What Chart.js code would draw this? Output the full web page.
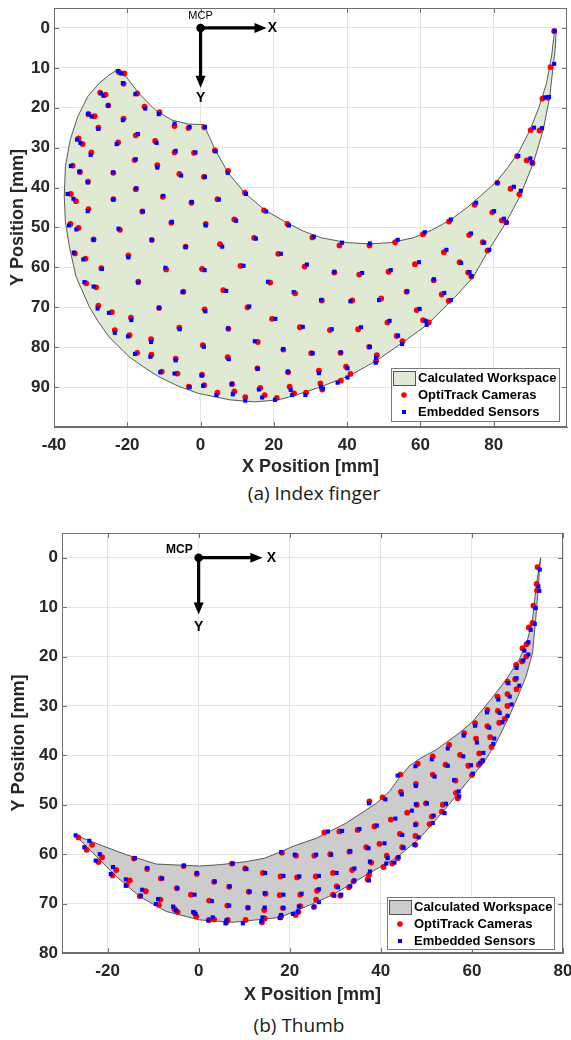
<!DOCTYPE html>
<html><head><meta charset="utf-8">
<script src="https://cdn.jsdelivr.net/npm/chart.js@4.4.0/dist/chart.umd.min.js"></script>
<style>
html,body{margin:0;padding:0;background:#fff;width:571px;height:1040px;overflow:hidden;}
.wrap{position:absolute;left:0;width:571px;}
.cap{position:absolute;font-family:"Open Sans",sans-serif;font-size:19px;color:#1a1a1a;white-space:nowrap;transform:translateX(-50%);}
</style></head><body>
<div class="wrap" style="top:0;height:480px"><canvas id="c1" width="571" height="480"></canvas></div>
<div class="cap" style="top:480px;left:314px">(a) Index finger</div>
<div class="wrap" style="top:520px;height:490px"><canvas id="c2" width="571" height="490"></canvas></div>
<div class="cap" style="top:1012px;left:299px">(b) Thumb</div>
<script>
// ---------- Index finger ----------
const indexXTicks = [-40,-20,0,20,40,60,80];
const indexYTicks = [0,10,20,30,40,50,60,70,80,90];
const indexWorkspace = [[-22.4,10.3],[-20,12.6],[-16.8,16.4],[-12.3,20.6],[-7.8,23.1],[-3.3,24.1],[0.8,24.2],
[2.5,27.5],[4,30.6],[7.6,36.4],[12.1,41.4],[17.5,45.6],[23.9,49],[28,50.9],[33,52.6],[40,53.8],[46.3,54.1],[52,53.8],[58,52.6],[63,50.7],[68.2,48.1],[73,44.8],[77,41.6],[80.8,38.5],[84,34.8],[87,30.8],[89.9,25.6],[92.3,20],[94.4,13.9],[95.8,7],[96.5,1.5],[96.8,0.2],
[97,1.5],[96.8,5],[96.2,9.7],[95.3,17.2],[93.5,25.6],[90.8,33.9],[87.1,42.3],[83.5,48.5],[78.1,56.5],[74.5,62.3],[70.4,66.5],[67.25,69.4],[61.8,74.4],[55.5,78.6],[48.3,83.2],[41,87],[32.9,89.9],[25.7,92.1],[21.2,93.2],[14.8,93.7],[8,93.2],[-0.5,91.6],[-6,89.8],[-11.4,87.4],[-15.5,85],[-19.5,82.4],[-25,77.4],[-28,73.5],[-30.4,69.8],[-34,62.3],[-35.8,54.8],[-36.9,48.5],[-37.2,42.3],[-36.9,34.8],[-35.6,28.1],[-33.5,22.2],[-30.8,17.2],[-27.7,13.9],[-25,11.8],[-22.4,10.3]];
const indexOpti = [[-22.2,11.1],[-20.8,11.4],[-21.0,14.0],[-27.4,16.2],[-25.9,16.7],[-25.2,19.4],[-30.6,21.6],[-28.9,22.1],[-21.0,22.7],[-27.9,25.0],
[-33.3,27.7],[-32.2,29.1],[-29.8,31.2],[-22.5,28.7],[-34.9,34.5],[-32.9,36.1],[-23.8,36.3],[-30.7,38.5],[-35.4,41.6],[-34.0,43.4],
[-23.8,42.9],[-30.6,45.4],[-35.5,49.1],[-33.3,50.1],[-29.2,53.0],[-22.0,50.6],[-13.3,53.1],[-4.1,54.8],[-17.3,16.4],[-15.3,19.7],
[-11.2,21.1],[-7.1,24.6],[-3.3,25.1],[1.0,24.9],[-17.7,26.9],[-12.4,28.3],[-7.1,31.2],[-1.8,31.3],[3.9,30.7],[-18.0,33.1],
[-11.8,34.4],[-5.8,36.6],[0.9,37.3],[7.5,35.8],[-17.7,40.4],[-10.3,42.3],[-2.5,43.8],[4.6,42.9],[12.1,41.3],[-15.9,46.0],
[-8.0,48.8],[1.4,49.1],[9.2,48.0],[17.3,45.7],[23.7,49.1],[14.6,52.6],[5.3,54.2],[96.5,0.8],[95.5,9.8],[93.3,17.7],
[94.8,17.5],[90.1,25.6],[92.5,25.7],[86.4,32.1],[89.0,33.2],[90.6,33.9],[81.0,38.8],[84.6,40.3],[87.0,41.7],[74.8,44.3],
[79.6,46.2],[82.2,48.2],[83.4,48.7],[67.8,48.5],[73.3,51.9],[77.0,53.7],[60.7,51.7],[53.1,53.7],[46.1,54.5],[37.9,54.5],
[30.5,52.5],[78.3,55.8],[28.4,59.8],[36.5,61.3],[43.3,61.8],[51.3,61.1],[58.5,59.2],[66.4,56.2],[70.7,58.7],[73.0,61.3],
[73.9,62.3],[63.6,63.2],[33.1,68.3],[41.4,68.3],[49.3,67.8],[56.2,66.1],[65.8,66.8],[67.7,68.4],[59.0,70.7],[27.1,75.0],
[35.3,75.7],[43.0,75.5],[51.0,73.8],[60.7,73.2],[62.3,73.8],[53.5,77.2],[55.1,78.5],[46.0,79.9],[48.1,82.0],[47.9,83.5],
[30.2,81.5],[38.2,81.4],[32.3,85.9],[39.7,84.9],[40.9,86.7],[28.8,91.4],[32.7,89.1],[33.2,90.6],[38.3,88.4],[-34.3,56.5],
[-31.4,57.8],[-27.1,60.2],[-19.7,57.0],[21.2,56.6],[-9.4,60.5],[0.4,60.4],[10.9,59.6],[-31.2,64.0],[-28.5,65.0],[-17.0,63.6],
[-4.7,66.1],[6.2,65.7],[19.0,63.8],[25.8,66.5],[-27.9,69.6],[-24.2,71.2],[-11.3,70.2],[1.1,70.5],[12.8,70.0],[19.5,72.9],
[-19.0,72.6],[-23.4,75.7],[-5.8,75.1],[7.6,75.4],[-19.4,77.0],[-13.5,78.0],[0.6,79.5],[15.6,78.7],[22.6,80.6],[-17.3,81.4],
[-13.4,81.9],[-6.8,82.9],[7.4,82.5],[15.5,85.3],[23.9,86.3],[-10.6,86.1],[-6.3,86.6],[0.4,86.9],[-3.2,89.9],[1.0,89.5],
[8.6,89.2],[4.6,91.4],[9.2,91.1],[12.2,92.5],[16.3,90.2],[17.5,92.0],[20.8,92.7],[24.3,89.9],[25.5,91.6]];
const indexEmb = [[-22.6,10.8],[-21.6,11.4],[-21.2,13.8],[-27.2,16.4],[-26.5,17.0],[-25.2,19.5],[-30.7,21.5],[-29.7,22.2],[-21.2,23.1],[-27.9,25.3],
[-33.7,28.0],[-32.8,28.8],[-30.0,31.8],[-22.9,29.1],[-35.4,34.6],[-33.1,36.0],[-23.9,36.2],[-30.8,38.7],[-36.3,41.6],[-34.7,42.8],
[-23.8,43.0],[-30.8,45.9],[-35.9,49.5],[-33.9,50.5],[-29.2,53.1],[-22.4,50.3],[-13.3,53.2],[-4.0,54.9],[-17.8,16.6],[-15.1,20.2],
[-11.4,21.6],[-7.1,24.0],[-3.0,24.8],[1.2,24.8],[-17.1,26.6],[-12.0,28.8],[-6.8,30.8],[-1.4,31.2],[4.1,30.9],[-17.7,32.9],
[-11.8,35.0],[-5.3,37.0],[1.2,37.3],[7.4,36.3],[-17.5,40.2],[-10.2,42.1],[-2.4,43.6],[5.0,43.0],[12.4,41.6],[-15.8,46.0],
[-7.8,48.6],[1.4,49.5],[9.7,48.3],[17.9,46.0],[24.1,49.5],[15.1,52.8],[5.9,54.8],[96.6,0.7],[96.5,9.0],[94.0,17.4],
[95.1,17.3],[91.0,25.0],[93.2,25.1],[86.7,32.1],[90.0,32.7],[90.4,33.7],[80.9,38.8],[85.5,39.8],[87.4,40.8],[75.2,43.8],
[80.1,45.9],[82.8,47.8],[83.5,48.8],[68.3,48.0],[73.8,51.5],[77.4,53.8],[61.2,51.2],[53.8,53.1],[46.2,54.0],[38.6,53.8],
[30.9,52.3],[78.8,55.6],[29.0,59.3],[36.5,61.1],[44.1,61.4],[51.9,60.7],[59.6,58.7],[67.1,55.6],[71.1,58.9],[73.4,61.2],
[74.0,62.2],[63.7,63.0],[32.9,68.2],[40.9,68.5],[48.7,68.2],[56.4,66.0],[66.5,66.4],[68.3,68.2],[59.8,70.4],[27.9,74.9],
[35.8,75.5],[43.8,75.0],[51.6,73.4],[61.4,73.4],[61.7,74.4],[53.9,77.1],[55.0,79.2],[46.2,79.9],[47.9,82.7],[47.8,83.9],
[30.6,81.5],[38.3,81.3],[32.3,86.5],[40.1,85.3],[40.1,87.6],[28.6,92.0],[32.9,89.9],[33.4,90.4],[37.4,88.9],[-34.6,56.3],
[-32.0,58.0],[-26.9,60.4],[-19.7,57.5],[21.9,56.6],[-9.6,60.1],[1.1,60.7],[11.7,59.6],[-31.7,63.7],[-29.2,64.8],[-17.0,63.8],
[-4.9,66.2],[7.0,65.9],[18.4,63.6],[25.4,66.2],[-28.1,70.3],[-25.0,71.4],[-11.4,70.1],[1.3,71.0],[13.3,69.8],[20.4,72.9],
[-18.9,73.2],[-23.4,76.4],[-5.7,75.5],[7.5,75.3],[-19.8,77.3],[-13.5,78.7],[0.9,79.9],[14.8,78.5],[22.5,80.5],[-17.9,81.7],
[-13.7,82.4],[-6.8,83.3],[7.7,83.0],[15.6,85.4],[23.8,86.1],[-11.0,86.3],[-7.1,86.6],[0.3,87.1],[-3.0,90.0],[0.7,89.7],
[8.5,89.3],[4.3,92.0],[8.8,91.8],[12.2,93.4],[15.9,90.6],[16.8,92.6],[20.3,93.2],[24.6,90.7],[25.0,92.0]];

// ---------- Thumb ----------
const thumbXTicks = [-20,0,20,40,60,80];
const thumbYTicks = [0,10,20,30,40,50,60,70,80];
const thumbWorkspace = [[-27.2,56.1],[-21.7,58.1],[-15.9,60.1],[-9.3,62],[0.2,62.4],[5,62.1],[10.5,61.5],[14.5,60.8],[17.8,59.6],[21,58.3],[25.8,56.8],[32.4,53.7],[39,49.7],[41.9,47.3],[44,44.6],[46.3,42.1],[48.5,40.7],[52.1,38.9],[57.2,35.5],[60.2,33.1],[63.8,29.1],[67.5,24.7],[70.4,20.6],[72.2,16.6],[73.3,12.5],[74.1,5.8],[75.1,0],
[74.8,3],[74.6,5.8],[74,12.5],[73.3,19.3],[71.9,24],[70.4,27.4],[68.2,32.1],[65.3,37.5],[62.6,41.5],[59.4,44.9],[54.3,50.7],[48.5,56.8],[43.3,60.8],[36.8,64.2],[29.5,68.2],[23.6,70.6],[17.8,72.8],[7.5,73.8],[0.2,73.3],[-7.1,71.6],[-12.9,68.6],[-18.1,64.5],[-22.4,60.5],[-26.1,57.1],[-27.2,56.1]];
const thumbOpti = [[-26.4,56.6],[-23.4,58.1],[-24.6,59.1],[-21.2,60.6],[-22.0,61.6],[-18.1,63.2],[-18.9,64.3],[-15.1,65.3],[-15.8,66.2],[-14.2,60.9],
[-11.3,63.0],[-11.6,67.5],[-12.9,68.5],[-8.3,64.9],[-8.4,69.2],[-8.7,70.3],[-4.8,66.9],[-5.3,71.1],[-4.6,71.7],[-3.3,62.4],
[-0.4,64.0],[-1.7,68.2],[-0.9,71.9],[-0.5,72.6],[3.4,65.6],[2.3,69.4],[3.4,73.2],[2.3,73.3],[6.7,66.6],[6.3,70.4],
[6.4,73.3],[6.1,73.8],[7.3,61.9],[10.2,62.9],[11.0,67.6],[10.8,70.8],[10.3,73.3],[14.1,63.8],[14.7,68.0],[14.4,71.3],
[14.5,73.0],[13.9,73.8],[18.3,59.7],[18.0,64.5],[17.8,68.3],[18.5,70.9],[18.1,72.5],[18.0,72.8],[21.4,60.3],[21.6,64.7],
[21.3,72.3],[21.9,71.7],[22.3,68.2],[22.3,70.5],[25.4,60.3],[25.7,64.5],[26.0,67.4],[25.8,69.2],[25.3,70.7],[27.6,55.6],
[28.9,60.0],[29.5,63.8],[30.3,66.5],[29.5,68.2],[31.1,68.4],[30.9,55.4],[33.1,59.5],[33.0,66.7],[34.0,65.5],[33.7,63.2],
[34.9,55.1],[36.8,58.6],[37.9,61.7],[37.4,64.2],[37.1,65.1],[37.5,49.3],[38.6,54.4],[39.7,57.9],[40.4,48.5],[41.3,60.3],
[40.6,62.6],[42.5,61.9],[42.2,53.0],[43.7,60.8],[44.3,43.9],[44.4,47.4],[44.2,55.9],[44.7,58.6],[45.8,51.6],[47.7,45.8],
[48.1,41.7],[47.9,50.0],[47.7,53.9],[47.6,56.3],[47.6,58.1],[49.9,49.7],[51.4,43.9],[51.2,52.4],[50.7,53.9],[53.6,50.0],
[53.4,51.4],[54.2,41.9],[56.4,45.1],[56.5,47.6],[56.9,48.7],[59.2,42.1],[60.0,44.0],[61.5,41.9],[74.4,1.9],[74.2,5.3],
[74.3,6.6],[73.5,9.7],[73.3,13.2],[72.5,14.1],[72.0,17.5],[71.1,18.3],[71.9,20.0],[71.0,21.0],[69.7,21.7],[69.5,24.6],
[67.8,25.1],[69.8,26.6],[67.8,27.6],[65.6,28.1],[67.8,30.0],[65.7,31.0],[63.4,30.8],[67.2,32.6],[66.0,33.4],[60.7,33.5],
[63.4,34.1],[58.3,35.5],[60.9,36.6],[64.0,36.3],[64.3,38.3],[55.0,37.9],[57.4,39.9],[61.6,39.6],[62.2,41.2],[51.4,40.2]];
const thumbEmb = [[-27.0,56.2],[-24.0,57.3],[-25.1,58.6],[-21.7,60.0],[-22.6,61.3],[-18.8,62.6],[-19.3,64.0],[-16.0,65.1],[-16.0,66.4],[-14.0,60.8],
[-11.3,62.8],[-12.4,67.2],[-12.7,68.4],[-8.0,64.9],[-8.9,69.1],[-9.4,70.1],[-4.7,66.9],[-5.6,70.6],[-5.0,71.4],[-3.2,62.3],
[-0.4,63.8],[-0.9,68.2],[-1.2,71.7],[-0.7,72.1],[3.5,65.5],[2.9,69.5],[3.1,72.8],[2.1,73.4],[6.8,66.5],[6.7,70.4],
[6.1,73.4],[5.9,74.0],[7.5,61.9],[10.5,63.0],[11.2,67.6],[10.9,70.9],[9.7,74.0],[14.6,63.8],[14.5,67.9],[14.5,70.8],
[14.0,72.8],[13.8,73.6],[18.1,59.6],[18.6,64.4],[18.6,68.2],[18.6,70.9],[18.1,72.3],[17.8,72.9],[21.1,60.1],[22.1,64.5],
[20.7,72.1],[21.8,71.6],[22.6,68.0],[22.0,70.6],[25.8,60.1],[26.4,64.4],[26.4,67.1],[26.4,69.7],[25.4,70.6],[28.4,55.4],
[29.1,60.1],[30.3,63.8],[30.6,66.7],[29.8,68.4],[31.3,68.2],[31.5,55.3],[33.3,59.4],[33.3,66.5],[34.2,65.3],[34.2,62.9],
[35.3,54.9],[37.3,58.8],[37.6,61.5],[37.6,63.5],[37.4,65.3],[37.4,49.7],[39.1,54.2],[40.8,57.8],[41.0,48.9],[41.5,60.8],
[41.2,61.9],[43.0,61.7],[43.2,52.8],[43.9,60.6],[43.7,44.1],[44.6,47.9],[44.7,56.1],[45.0,58.7],[46.8,51.2],[47.7,46.2],
[47.6,42.2],[47.7,49.9],[47.6,54.1],[48.3,56.6],[47.4,58.1],[50.1,49.7],[51.8,44.3],[51.6,52.2],[51.4,53.7],[54.3,49.8],
[54.0,51.7],[54.7,42.1],[56.1,45.0],[57.1,47.3],[57.2,48.3],[59.8,42.0],[60.2,43.7],[61.8,41.6],[74.9,2.4],[74.6,5.8],
[74.8,6.7],[74.0,10.2],[73.8,13.4],[72.9,14.6],[72.4,17.1],[71.5,18.8],[72.4,19.6],[71.3,20.8],[69.8,22.3],[69.8,24.4],
[68.0,25.4],[70.4,25.9],[68.3,28.1],[65.8,28.7],[68.7,29.7],[66.1,31.4],[63.3,31.3],[67.8,32.0],[66.7,33.3],[60.7,34.0],
[63.8,34.4],[58.2,36.0],[61.1,37.4],[64.9,36.6],[64.7,37.7],[54.7,38.6],[58.1,40.2],[62.5,39.5],[62.4,41.0],[51.2,40.8]];

const legendLabels = ['Calculated Workspace','OptiTrack Cameras','Embedded Sensors'];

const toXY = a => a.map(p => ({x:p[0], y:p[1]}));
const TICK_FONT = {family:'"Liberation Sans", Arial, sans-serif', size:17, weight:'bold'};
const TITLE_FONT = {family:'"Liberation Sans", Arial, sans-serif', size:18, weight:'bold'};
const TXT = '#262626', GRID = '#e4e4e4', BOX = '#6e6e6e';

const boxPlugin = {
  id:'boxPlugin',
  afterDatasetsDraw(chart){
    const {ctx, chartArea:a, scales:{x, y}} = chart;
    ctx.save();
    ctx.strokeStyle = BOX; ctx.lineWidth = 1;
    ctx.strokeRect(a.left+0.5, a.top+0.5, a.right-a.left-1, a.bottom-a.top-1);
    ctx.beginPath();
    x.ticks.forEach(t => { const p = Math.round(x.getPixelForValue(t.value))+0.5;
      ctx.moveTo(p, a.bottom); ctx.lineTo(p, a.bottom-5); ctx.moveTo(p, a.top); ctx.lineTo(p, a.top+5); });
    y.ticks.forEach(t => { const p = Math.round(y.getPixelForValue(t.value))+0.5;
      ctx.moveTo(a.left, p); ctx.lineTo(a.left+5, p); ctx.moveTo(a.right, p); ctx.lineTo(a.right-5, p); });
    ctx.stroke();
    ctx.restore();
  }
};

const mcpPlugin = {
  id:'mcp',
  afterDatasetsDraw(chart, args, o){
    const {ctx, scales:{x, y}} = chart;
    const ox = x.getPixelForValue(0), oy = y.getPixelForValue(0);
    const tx = x.getPixelForValue(o.ax), ty = y.getPixelForValue(o.ay);
    const hl = 12, hw = 5;
    ctx.save();
    ctx.strokeStyle = '#000'; ctx.fillStyle = '#000'; ctx.lineWidth = 3.2;
    ctx.beginPath(); ctx.moveTo(ox, oy); ctx.lineTo(tx-hl+1, oy); ctx.moveTo(ox, oy); ctx.lineTo(ox, ty-hl+1); ctx.stroke();
    ctx.beginPath(); ctx.moveTo(tx, oy); ctx.lineTo(tx-hl, oy-hw); ctx.lineTo(tx-hl, oy+hw); ctx.closePath(); ctx.fill();
    ctx.beginPath(); ctx.moveTo(ox, ty); ctx.lineTo(ox-hw, ty-hl); ctx.lineTo(ox+hw, ty-hl); ctx.closePath(); ctx.fill();
    ctx.beginPath(); ctx.arc(ox, oy, 4.3, 0, Math.PI*2); ctx.fill();
    ctx.textBaseline = 'middle';
    ctx.font = 'bold 14px "Liberation Sans", Arial, sans-serif';
    ctx.textAlign = 'center';
    ctx.fillText('X', x.getPixelForValue(o.xl[0]), y.getPixelForValue(o.xl[1]));
    ctx.fillText('Y', x.getPixelForValue(o.yl[0]), y.getPixelForValue(o.yl[1]));
    ctx.font = o.mcpFont;
    ctx.textAlign = o.mcpAlign;
    ctx.fillText('MCP', x.getPixelForValue(o.ml[0]), y.getPixelForValue(o.ml[1]));
    ctx.restore();
  }
};

const legendPlugin = {
  id:'boxLegend',
  afterDraw(chart, args, o){
    const {ctx, chartArea:a} = chart;
    const ds = chart.data.datasets;
    const bx = a.right - o.dx, by = a.bottom - o.dy, bw = o.w, bh = o.h;
    ctx.save();
    ctx.fillStyle = '#fff'; ctx.fillRect(bx, by, bw, bh);
    ctx.strokeStyle = '#7a7a7a'; ctx.lineWidth = 1; ctx.strokeRect(bx+0.5, by+0.5, bw, bh);
    ctx.fillStyle = ds[0].backgroundColor; ctx.fillRect(bx+2, by+3, 22, 14);
    ctx.strokeStyle = '#555'; ctx.strokeRect(bx+2.5, by+3.5, 22, 14);
    ctx.fillStyle = ds[1].backgroundColor; ctx.beginPath(); ctx.arc(bx+13, by+o.r2, 2.8, 0, Math.PI*2); ctx.fill();
    ctx.fillStyle = ds[2].backgroundColor; ctx.fillRect(bx+11, by+o.r3-2, 4, 4);
    ctx.fillStyle = '#000'; ctx.font = 'bold 13px "Liberation Sans", Arial, sans-serif';
    ctx.textBaseline = 'middle'; ctx.textAlign = 'left';
    ctx.fillText(ds[0].label, bx+27, by+o.r1);
    ctx.fillText(ds[1].label, bx+27, by+o.r2);
    ctx.fillText(ds[2].label, bx+27, by+o.r3);
    ctx.restore();
  }
};

function build(id, ws, opti, emb, fillCol, xr, yr, xt, yt, geom, mcp, leg){
  return new Chart(document.getElementById(id), {
    type:'scatter',
    data:{datasets:[
      {label:legendLabels[0], data:toXY(ws), showLine:true, fill:'shape', backgroundColor:fillCol, borderColor:'#4a4a4a', borderWidth:0.9, pointRadius:0, tension:0, order:3},
      {label:legendLabels[1], data:toXY(opti), pointStyle:'circle', pointRadius:2.9, backgroundColor:'#ff0000', borderWidth:0, order:2},
      {label:legendLabels[2], data:toXY(emb), pointStyle:'rect', pointRadius:2.9, backgroundColor:'#0000ff', borderWidth:0, order:1}
    ]},
    options:{
      responsive:false, animation:false, events:[],
      layout:{padding:{top:geom.top, right:geom.right, left:0, bottom:0}},
      plugins:{legend:{display:false}, tooltip:{enabled:false}, mcp:mcp, boxLegend:leg},
      scales:{
        x:{type:'linear', min:xr[0], max:xr[1],
          afterBuildTicks:s => { s.ticks = xt.map(v => ({value:v})); },
          afterFit:s => { s.height = geom.xh; s.paddingLeft = 0; s.paddingRight = 0; },
          grid:{color:GRID, drawTicks:false}, border:{color:BOX},
          ticks:{padding:8, font:TICK_FONT, color:TXT, maxRotation:0, autoSkip:false},
          title:{display:true, text:'X Position [mm]', font:TITLE_FONT, color:TXT, padding:{top:0, bottom:geom.xtp}}},
        y:{type:'linear', reverse:true, min:yr[0], max:yr[1],
          afterBuildTicks:s => { s.ticks = yt.map(v => ({value:v})); },
          afterFit:s => { s.width = geom.yw; s.paddingTop = 0; s.paddingBottom = 0; },
          grid:{color:GRID, drawTicks:false}, border:{color:BOX},
          ticks:{padding:4, font:TICK_FONT, color:TXT, autoSkip:false},
          title:{display:true, text:'Y Position [mm]', font:TITLE_FONT, color:TXT, padding:{top:geom.ytp, bottom:0}}}
      }
    },
    plugins:[boxPlugin, mcpPlugin, legendPlugin]
  });
}

build('c1', indexWorkspace, indexOpti, indexEmb, '#dfe9d3', [-40,100], [-5,100], indexXTicks, indexYTicks,
  {top:8, right:0, xh:53, yw:54, xtp:2, ytp:7},
  {ax:18, ay:15, xl:[19.6,0], yl:[0,17.6], ml:[0,-3.0], mcpFont:'11px "Liberation Sans", Arial, sans-serif', mcpAlign:'center'},
  {dx:176, dy:59, w:168, h:53, r1:10, r2:27, r3:44});
build('c2', thumbWorkspace, thumbOpti, thumbEmb, '#cccccc', [-30,80], [-5,80], thumbXTicks, thumbYTicks,
  {top:13, right:8, xh:57, yw:62, xtp:4, ytp:8},
  {ax:14, ay:11.5, xl:[16,0], yl:[0,14], ml:[-1.3,-1.6], mcpFont:'bold 12px "Liberation Sans", Arial, sans-serif', mcpAlign:'right'},
  {dx:176, dy:56, w:167, h:52, r1:10, r2:27, r3:44});
</script>
</body></html>
